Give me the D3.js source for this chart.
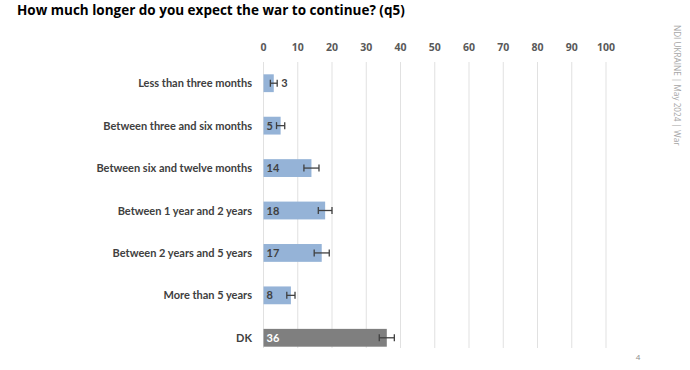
<!DOCTYPE html>
<meta charset="utf-8">
<style>
  body { margin: 0; background: #fff; }
  svg { font-family: "Open Sans", "Liberation Sans", sans-serif; }
  .lbl { font-family: Lato, "Open Sans", sans-serif; }
</style>
<svg width="690" height="370"></svg>
<script src="https://d3js.org/d3.v7.min.js"></script>
<script>
var svg = d3.select("svg");

// data
var categories = ["Less than three months", "Between three and six months",
  "Between six and twelve months", "Between 1 year and 2 years",
  "Between 2 years and 5 years", "More than 5 years", "DK"];
var values = [3, 5, 14, 18, 17, 8, 36];
var errors = [1, 1.2, 2.2, 2, 2.2, 1.2, 2.2];
var ticks = [0, 10, 20, 30, 40, 50, 60, 70, 80, 90, 100];

var x = d3.scaleLinear().domain([0, 100]).range([263.5, 606]);
var y = d3.scaleBand().domain(categories).range([62, 359]).paddingInner(0.58).paddingOuter(0.29);

// title
svg.append("text")
  .attr("x", 17).attr("y", 15)
  .style("font-size", "13.5px").style("font-weight", "bold").style("fill", "#000")
  .text("How much longer do you expect the war to continue? (q5)");

// gridlines
svg.append("g").selectAll("line")
  .data(ticks).enter().append("line")
  .attr("x1", function(d) { return x(d); }).attr("x2", function(d) { return x(d); })
  .attr("y1", 62).attr("y2", 348)
  .attr("stroke", "#d9d9d9").attr("stroke-width", 0.8);

// tick labels on top
svg.append("g").selectAll("text")
  .data(ticks).enter().append("text")
  .attr("x", function(d) { return x(d); }).attr("y", 51)
  .attr("text-anchor", "middle")
  .style("font-size", "10.5px").style("font-weight", "bold").style("fill", "#595959")
  .text(function(d) { return d; });

// category labels
svg.append("g").selectAll("text")
  .data(categories).enter().append("text")
  .attr("class", "lbl")
  .attr("x", 252).attr("y", function(d) { return y(d) + y.bandwidth() / 2 + 4; })
  .attr("text-anchor", "end")
  .style("font-size", "11px").style("font-weight", "bold").style("fill", "#404040")
  .text(function(d) { return d; });

var rows = categories.map(function(c, i) { return { cat: c, v: values[i], e: errors[i] }; });

// bars
svg.append("g").selectAll("rect")
  .data(rows).enter().append("rect")
  .attr("x", x(0)).attr("y", function(d) { return y(d.cat); })
  .attr("width", function(d) { return x(d.v) - x(0); })
  .attr("height", y.bandwidth())
  .attr("fill", function(d) { return d.cat === "DK" ? "#7f7f7f" : "#95b3d7"; });

// error bars
var eb = svg.append("g").selectAll("g")
  .data(rows).enter().append("g")
  .attr("stroke", "#404040").attr("stroke-width", 1.3);
eb.append("line")
  .attr("x1", function(d) { return x(d.v - d.e); }).attr("x2", function(d) { return x(d.v + d.e); })
  .attr("y1", function(d) { return y(d.cat) + y.bandwidth() / 2; })
  .attr("y2", function(d) { return y(d.cat) + y.bandwidth() / 2; });
[-1, 1].forEach(function(s) {
  eb.append("line")
    .attr("x1", function(d) { return x(d.v + s * d.e); }).attr("x2", function(d) { return x(d.v + s * d.e); })
    .attr("y1", function(d) { return y(d.cat) + y.bandwidth() / 2 - 3.5; })
    .attr("y2", function(d) { return y(d.cat) + y.bandwidth() / 2 + 3.5; });
});

// value labels
svg.append("g").selectAll("text")
  .data(rows).enter().append("text")
  .attr("class", "lbl")
  .attr("x", function(d) { return d.v < 4 ? x(d.v + d.e) + 4 : x(0) + 3; })
  .attr("y", function(d) { return y(d.cat) + y.bandwidth() / 2 + 4; })
  .style("font-size", "11px").style("font-weight", "bold")
  .style("fill", function(d) { return d.cat === "DK" ? "#fff" : "#404040"; })
  .text(function(d) { return d.v; });

// side note
svg.append("text")
  .attr("transform", "translate(674,25) rotate(90)")
  .style("font-size", "8.2px").style("fill", "#a6a6a6")
  .text("NDI UKRAINE | May 2024 | War");

// page number
svg.append("text")
  .attr("x", 638).attr("y", 360)
  .attr("text-anchor", "middle")
  .style("font-size", "8px").style("fill", "#8c8c8c")
  .text("4");
</script>
